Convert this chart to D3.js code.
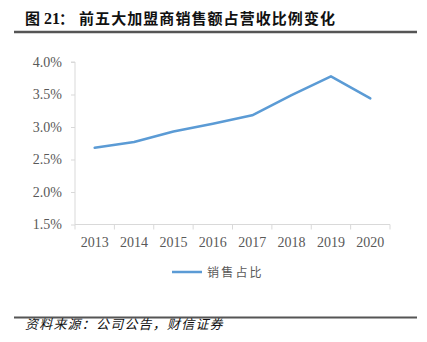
<!DOCTYPE html>
<html><head><meta charset="utf-8">
<script src="https://cdn.jsdelivr.net/npm/d3@7/dist/d3.min.js"></script>
<style>
html,body{margin:0;padding:0;background:#fff;}
svg{display:block;}
</style></head>
<body>
<svg id="chart" width="427" height="342"></svg>
<script>
const titlePrefix = "图";
const titleNumber = "21";
const titleColon = "：";
const titleMain = "前五大加盟商销售额占营收比例变化";
const source = "资料来源：公司公告，财信证券";
const seriesName = "销售占比";
const years = ["2013","2014","2015","2016","2017","2018","2019","2020"];
const values = [2.68, 2.77, 2.93, 3.05, 3.18, 3.49, 3.78, 3.44];
const yTicks = [1.5, 2.0, 2.5, 3.0, 3.5, 4.0];

const svg = d3.select("#chart");
const serif = "'Liberation Serif','Times New Roman',serif";
const cjk = "'Noto Sans CJK SC','Noto Sans',sans-serif";

// Title
const tg = svg.append("g").attr("fill", "#111").attr("font-weight", "bold");
tg.append("text").attr("x", 25).attr("y", 24).attr("font-family", cjk).attr("font-size", 15).text(titlePrefix);
tg.append("text").attr("x", 44).attr("y", 24).attr("font-family", serif).attr("font-size", 16).text(titleNumber);
tg.append("text").attr("x", 59).attr("y", 24).attr("font-family", cjk).attr("font-size", 15).text(titleColon);
tg.append("text").attr("x", 79).attr("y", 24).attr("font-family", cjk).attr("font-size", 15)
  .attr("textLength", 256).attr("lengthAdjust", "spacing").text(titleMain);
svg.append("line").attr("x1", 14).attr("x2", 417).attr("y1", 32).attr("y2", 32)
  .attr("stroke", "#555").attr("stroke-width", 2.5);

const x = d3.scaleBand().domain(years).range([75, 390]).padding(0);
const y = d3.scaleLinear().domain([1.5, 4.0]).range([224.5, 62]);

// Y axis
const yAxis = svg.append("g").attr("transform", "translate(75,0)")
  .call(d3.axisLeft(y).tickValues(yTicks).tickFormat(d => d.toFixed(1) + "%").tickSize(4).tickPadding(9));
yAxis.select(".domain").attr("stroke", "#d9d9d9").attr("d", `M-4,${y(4.0)}H0V${y(1.5)}`);
yAxis.selectAll(".tick line").attr("stroke", "#d9d9d9");
yAxis.selectAll(".tick text").attr("font-family", serif).attr("font-size", 14).attr("fill", "#595959");

// X axis
const xAxis = svg.append("g").attr("transform", `translate(0,${y(1.5)})`)
  .call(d3.axisBottom(x).tickSize(0).tickPadding(13));
xAxis.select(".domain").attr("stroke", "#d9d9d9").attr("d", `M${x.range()[0]},0H${x.range()[1]}`);
xAxis.selectAll(".tick text").attr("font-family", serif).attr("font-size", 14).attr("fill", "#595959");
const bounds = years.map(d => x(d)).concat([x.range()[1]]);
xAxis.selectAll(".bt").data(bounds).enter().append("line")
  .attr("x1", d => d).attr("x2", d => d).attr("y1", 0).attr("y2", 5).attr("stroke", "#d9d9d9");

// Line
const line = d3.line().x((d, i) => x(years[i]) + x.bandwidth() / 2).y(d => y(d));
svg.append("path").datum(values).attr("d", line)
  .attr("fill", "none").attr("stroke", "#5b9bd5").attr("stroke-width", 2.5)
  .attr("stroke-linejoin", "round").attr("stroke-linecap", "round");

// Legend
svg.append("line").attr("x1", 172).attr("x2", 202).attr("y1", 272).attr("y2", 272)
  .attr("stroke", "#5b9bd5").attr("stroke-width", 2.5);
svg.append("text").attr("x", 207).attr("y", 276.5)
  .attr("font-family", cjk).attr("font-size", 12).attr("letter-spacing", 2.2)
  .attr("fill", "#595959").text(seriesName);

// Source
svg.append("line").attr("x1", 14).attr("x2", 417).attr("y1", 317.5).attr("y2", 317.5)
  .attr("stroke", "#555").attr("stroke-width", 2);
svg.append("text").attr("x", 25).attr("y", 329)
  .attr("font-family", cjk).attr("font-size", 13).attr("font-style", "italic")
  .attr("letter-spacing", 1.2).attr("fill", "#111").text(source);
</script>
</body></html>
